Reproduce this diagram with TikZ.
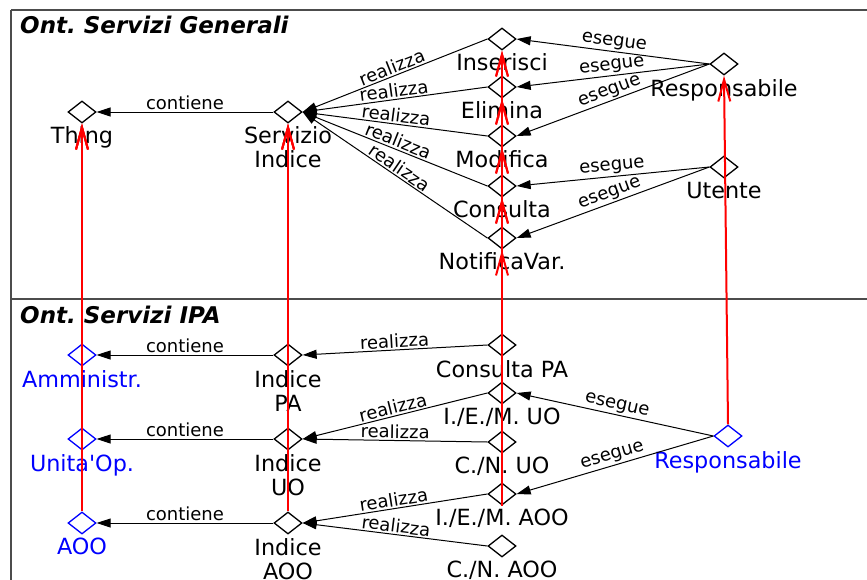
\documentclass[tikz,border=0pt]{standalone}
\usepackage{fontspec}
\setmainfont{DejaVu Sans}
\usetikzlibrary{shapes.geometric,arrows.meta}

\begin{document}
\frenchspacing
\begin{tikzpicture}[x=1pt,y=-1pt,
  conc/.style={diamond, draw=black, line width=1.3pt, minimum width=28pt,
    minimum height=22pt, inner sep=0pt},
  concb/.style={conc, draw=blue},
  lbl/.style={anchor=north, inner sep=0pt, align=center,
    font=\fontsize{22.3}{24}\selectfont},
  lblb/.style={lbl, text=blue},
  rel/.style={line width=1pt, -{Triangle[length=14pt,width=9pt]}},
  rlab/.style={midway, above, sloped, inner sep=1.5pt,
    font=\fontsize{18}{20}\selectfont},
  isa/.style={draw=red, line width=2pt,
    -{Straight Barb[length=22pt,width=12pt,line width=2pt]}},
  frame/.style={draw=black!70, line width=1.4pt},
  title/.style={anchor=base west, inner sep=0pt,
    font=\fontsize{23}{25}\selectfont\bfseries\itshape}
]
\useasboundingbox (0,0) rectangle (867,579);

% package frames
\draw[frame] (11,10) -- (870,10);
\draw[frame] (11,10) -- (11,582);
\draw[frame] (11,299) -- (870,299);
\node[title] (t1) at (20,33) {Ont. Servizi Generali};
\node[title] (t2) at (20,323) {Ont. Servizi IPA};

% general services ontology
\node[conc] (thing) at (82,112) {};
\node[conc] (serv)  at (288,112) {};
\node[conc] (ins)   at (502,39) {};
\node[conc] (eli)   at (502,87) {};
\node[conc] (mod)   at (502,136) {};
\node[conc] (cons)  at (502,186) {};
\node[conc] (notif) at (502,238) {};
\node[conc] (resp)  at (724,64) {};
\node[conc] (ute)   at (724,167) {};

\node[lbl] (thingL) at (82,126.5) {Thing};
\node[lbl] (servL)  at (288,126.5) {Servizio\\Indice};
\node[lbl] (insL)   at (502,53.5) {Inserisci};
\node[lbl] (eliL)   at (502,101.5) {Elimina};
\node[lbl] (modL)   at (502,150.5) {Modifica};
\node[lbl] (consL)  at (502,200.5) {Consulta};
\node[lbl] (notifL) at (502,252.5) {NotificaVar.};
\node[lbl] (respL)  at (724,79.5) {Responsabile};
\node[lbl] (uteL)   at (724,182.5) {Utente};

% IPA services ontology
\node[concb] (amm)  at (82,355) {};
\node[concb] (uop)  at (82,439) {};
\node[concb] (aoo)  at (82,523) {};
\node[conc] (ipa)   at (288,355) {};
\node[conc] (iuo)   at (288,439) {};
\node[conc] (iaoo)  at (288,523) {};
\node[conc] (cpa)   at (502,345) {};
\node[conc] (iemuo) at (502,393) {};
\node[conc] (cnuo)  at (502,442) {};
\node[conc] (iemaoo) at (502,494) {};
\node[conc] (cnaoo) at (502,546) {};
\node[concb] (respb) at (728,436) {};

\node[lblb] (ammL)  at (82,370) {Amministr.};
\node[lblb] (uopL)  at (82,454) {Unita\textquotesingle Op.};
\node[lblb] (aooL)  at (82,538) {AOO};
\node[lbl] (ipaL)   at (288,370) {Indice\\PA};
\node[lbl] (iuoL)   at (288,454) {Indice\\UO};
\node[lbl] (iaooL)  at (288,538) {Indice\\AOO};
\node[lbl] (cpaL)   at (502,360) {Consulta PA};
\node[lbl] (iemuoL) at (502,408) {I./E./M. UO};
\node[lbl] (cnuoL)  at (502,457) {C./N. UO};
\node[lbl] (iemaooL) at (502,509) {I./E./M. AOO};
\node[lbl] (cnaooL) at (502,561) {C./N. AOO};
\node[lblb] (respbL) at (728,451) {Responsabile};

% relations: general
\draw[rel] (serv.west) -- node[rlab] {contiene} (thing.east);
\foreach \s in {ins,eli,mod,cons,notif}
  \draw[rel] (\s.west) -- node[rlab] {realizza} (serv.east);
\foreach \t in {ins,eli,mod}
  \draw[rel] (resp.west) -- node[rlab] {esegue} (\t.east);
\foreach \t in {cons,notif}
  \draw[rel] (ute.west) -- node[rlab] {esegue} (\t.east);

% relations: IPA
\draw[rel] (ipa.west)  -- node[rlab] {contiene} (amm.east);
\draw[rel] (iuo.west)  -- node[rlab] {contiene} (uop.east);
\draw[rel] (iaoo.west) -- node[rlab] {contiene} (aoo.east);
\draw[rel] (cpa.west)    -- node[rlab] {realizza} (ipa.east);
\draw[rel] (iemuo.west)  -- node[rlab] {realizza} (iuo.east);
\draw[rel] (cnuo.west)   -- node[rlab] {realizza} (iuo.east);
\draw[rel] (iemaoo.west) -- node[rlab] {realizza} (iaoo.east);
\draw[rel] (cnaoo.west)  -- node[rlab] {realizza} (iaoo.east);
\draw[rel] (respb.west) -- node[rlab] {esegue} (iemuo.east);
\draw[rel] (respb.west) -- node[rlab] {esegue} (iemaoo.east);

% specialisation links between the two ontologies
\foreach \s in {amm,uop,aoo}
  \draw[isa] (\s.north) -- (thing.south);
\foreach \s in {ipa,iuo,iaoo}
  \draw[isa] (\s.north) -- (serv.south);
\draw[isa] (cpa.north) -- (cons.south);
\foreach \t in {ins,eli,mod}
  \draw[isa] (iemuo.north) -- (\t.south);
\foreach \t in {cons,notif}
  \draw[isa] (cnuo.north) -- (\t.south);
\foreach \t in {ins,eli,mod}
  \draw[isa] (iemaoo.south) -- (\t.south);
\draw[isa] (respb.north) -- (resp.south);
\end{tikzpicture}
\end{document}
